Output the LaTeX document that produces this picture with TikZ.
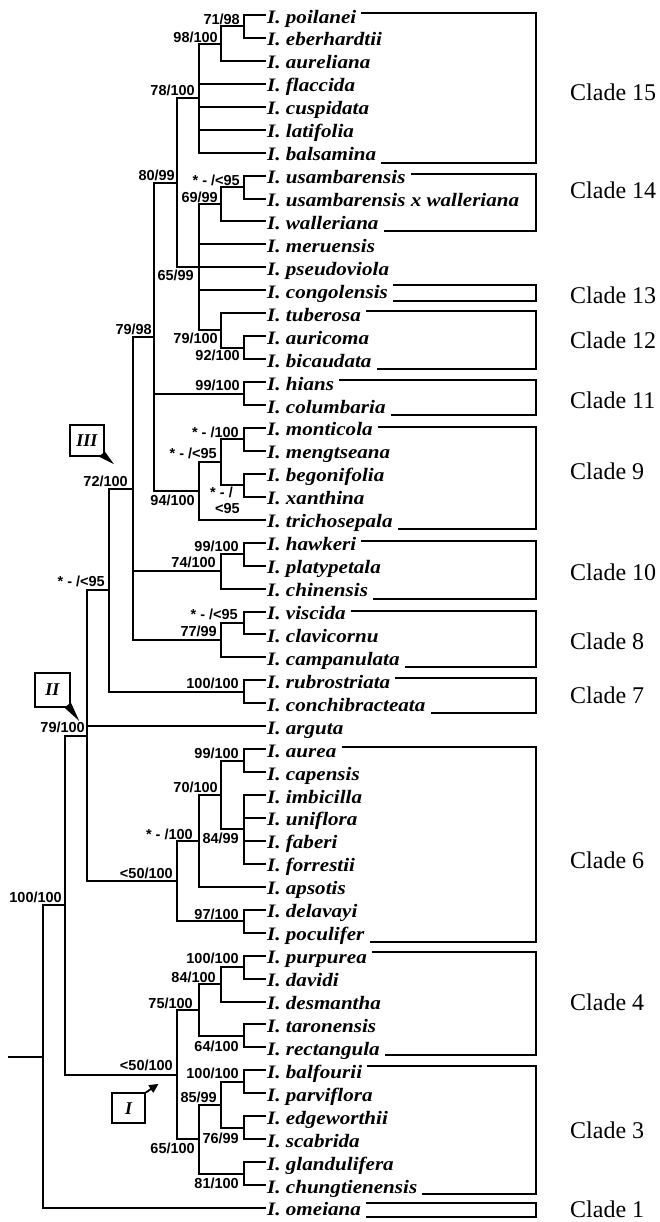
\documentclass[tikz,border=0pt]{standalone}
\usepackage{fontspec}
\setmainfont{Liberation Serif}
\newfontfamily\taxfont{Liberation Serif}[FakeStretch=1.11]
\newfontfamily\bootfont{Liberation Sans}
\usetikzlibrary{calc}

\tikzset{
  branch/.style={line width=2bp, line join=miter},
  bracket/.style={line width=2bp, line join=miter},
  taxon/.style={inner sep=0pt, anchor=base west,
    font=\taxfont\bfseries\itshape\fontsize{19bp}{21bp}\selectfont},
  boot/.style={inner sep=0pt, anchor=base east,
    font=\bootfont\bfseries\fontsize{14.5bp}{16bp}\selectfont},
  cladelab/.style={inner sep=0pt, anchor=west,
    font=\fontsize{24bp}{26bp}\selectfont},
  marker/.style={draw, line width=1.8bp, inner sep=0pt,
    font=\bfseries\itshape\fontsize{18bp}{20bp}\selectfont},
}
\newcommand\bootlab[4]{\node[boot] (#1) at (#2,#3) {#4};}

\begin{document}
\begin{tikzpicture}[x=1bp, y=-1bp]
\useasboundingbox (0,0) rectangle (660,1222);

% ---- terminal taxa ----
\foreach \i/\n in {1/poilanei,2/eberhardtii,3/aureliana,4/flaccida,5/cuspidata,
  6/latifolia,7/balsamina,8/usambarensis,9/usambarensis x walleriana,10/walleriana,
  11/meruensis,12/pseudoviola,13/congolensis,14/tuberosa,15/auricoma,16/bicaudata,
  17/hians,18/columbaria,19/monticola,20/mengtseana,21/begonifolia,22/xanthina,
  23/trichosepala,24/hawkeri,25/platypetala,26/chinensis,27/viscida,28/clavicornu,
  29/campanulata,30/rubrostriata,31/conchibracteata,32/arguta,33/aurea,34/capensis,
  35/imbicilla,36/uniflora,37/faberi,38/forrestii,39/apsotis,40/delavayi,
  41/poculifer,42/purpurea,43/davidi,44/desmantha,45/taronensis,46/rectangula,
  47/balfourii,48/parviflora,49/edgeworthii,50/scabrida,51/glandulifera,
  52/chungtienensis,53/omeiana}{
  \pgfmathsetmacro\yy{15+(\i-1)*22.942}
  \coordinate (e\i) at (265.5,\yy);
  \node[taxon] (t\i) at (267,\yy+8) {I. \n};
}

% ---- internal nodes ----
\coordinate (n71)   at (244,26.47);
\coordinate (n98)   at (221,43.68);
\coordinate (n78)   at (198.7,98.17);
\coordinate (nU)    at (244,187.07);
\coordinate (n69)   at (221,204.27);
\coordinate (n92)   at (244,347.66);
\coordinate (n79t)  at (221,330.45);
\coordinate (n65)   at (198.7,267.36);
\coordinate (n80)   at (176.7,182.77);
\coordinate (n99h)  at (244,393.54);
\coordinate (nS1)   at (244,439.43);
\coordinate (nS2)   at (244,485.31);
\coordinate (nS3)   at (221,462.37);
\coordinate (n94)   at (198.7,491.05);
\coordinate (n79)   at (154,336.91);
\coordinate (n99k)  at (244,554.14);
\coordinate (n74)   at (221,571.35);
\coordinate (nV)    at (244,622.96);
\coordinate (n77)   at (221,640.17);
\coordinate (n72)   at (132.7,488.54);
\coordinate (nR)    at (244,691.79);
\coordinate (nA)    at (109.3,590.17);
\coordinate (n99a)  at (244,760.62);
\coordinate (n84)   at (244,829.44);
\coordinate (n70)   at (221,795.03);
\coordinate (nSt)   at (198.7,840.91);
\coordinate (n97)   at (244,921.21);
\coordinate (nC6)   at (176.7,881.06);
\coordinate (n79b)  at (87.3,735.62);
\coordinate (n100p) at (244,967.09);
\coordinate (n84d)  at (221,984.3);
\coordinate (n64)   at (244,1035.92);
\coordinate (n75)   at (198.7,1010.11);
\coordinate (n100b) at (244,1081.8);
\coordinate (n76)   at (244,1127.69);
\coordinate (n85)   at (221,1104.75);
\coordinate (n81)   at (244,1173.57);
\coordinate (n65b)  at (198.7,1139.16);
\coordinate (nL)    at (176.7,1074.64);
\coordinate (nII)   at (65,905.13);
\coordinate (nRoot) at (42.7,1056.56);
\coordinate (r0)    at (8.3,1056.56);
\coordinate (R)     at (535.5,0);

% ---- branches ----
\foreach \p/\c in {n71/e1,n71/e2,n98/n71,n98/e3,n78/n98,n78/e4,n78/e5,n78/e6,n78/e7,
  nU/e8,nU/e9,n69/nU,n69/e10,n92/e15,n92/e16,n79t/e14,n79t/n92,
  n65/n69,n65/e11,n65/e13,n65/n79t,n80/n78,n80/n65,n80/e12,
  n99h/e17,n99h/e18,nS1/e19,nS1/e20,nS2/e21,nS2/e22,nS3/nS1,nS3/nS2,
  n94/nS3,n94/e23,n79/n80,n79/n99h,n79/n94,
  n99k/e24,n99k/e25,n74/n99k,n74/e26,nV/e27,nV/e28,n77/nV,n77/e29,
  n72/n79,n72/n74,n72/n77,nR/e30,nR/e31,nA/n72,nA/nR,
  n99a/e33,n99a/e34,n84/e35,n84/e36,n84/e37,n84/e38,n70/n99a,n70/n84,
  nSt/n70,nSt/e39,n97/e40,n97/e41,nC6/nSt,nC6/n97,
  n79b/nA,n79b/e32,n79b/nC6,
  n100p/e42,n100p/e43,n84d/n100p,n84d/e44,n64/e45,n64/e46,n75/n84d,n75/n64,
  n100b/e47,n100b/e48,n76/e49,n76/e50,n85/n100b,n85/n76,n81/e51,n81/e52,
  n65b/n85,n65b/n81,nL/n75,nL/n65b,nII/n79b,nII/nL,nRoot/nII,nRoot/e53}
  \draw[branch] (\p) |- (\c);
\draw[branch] (r0) -- (nRoot);

% ---- support values ----
\bootlab{b1}{240}{24}{71/98}
\bootlab{b2}{218}{42}{98/100}
\bootlab{b3}{195}{95}{78/100}
\bootlab{b4}{175}{180.5}{80/99}
\bootlab{b5}{240}{185}{* - /<95}
\bootlab{b6}{218}{202}{69/99}
\bootlab{b7}{194}{280.7}{65/99}
\bootlab{b8}{152}{334}{79/98}
\bootlab{b9}{218}{343}{79/100}
\bootlab{b10}{240}{360}{92/100}
\bootlab{b11}{240}{390.7}{99/100}
\bootlab{b12}{239}{437.7}{* - /100}
\bootlab{b13}{217}{458}{* - /<95}
\bootlab{b14}{233}{497.7}{* - /}
\bootlab{b15}{240}{513}{<95}
\bootlab{b16}{195}{505}{94/100}
\bootlab{b17}{239}{551}{99/100}
\bootlab{b18}{216}{567.7}{74/100}
\bootlab{b19}{238}{619}{* - /<95}
\bootlab{b20}{217}{636.7}{77/99}
\bootlab{b21}{239}{688}{100/100}
\bootlab{b22}{128}{486}{72/100}
\bootlab{b23}{105}{586}{* - /<95}
\bootlab{b24}{85}{732}{79/100}
\bootlab{b25}{239}{758}{99/100}
\bootlab{b26}{218}{792}{70/100}
\bootlab{b27}{193}{839}{* - /100}
\bootlab{b28}{239}{843}{84/99}
\bootlab{b29}{173}{878}{<50/100}
\bootlab{b30}{239}{919}{97/100}
\bootlab{b31}{62}{902}{100/100}
\bootlab{b32}{239}{963}{100/100}
\bootlab{b33}{216}{982}{84/100}
\bootlab{b34}{193}{1008}{75/100}
\bootlab{b35}{239}{1051}{64/100}
\bootlab{b36}{173}{1070}{<50/100}
\bootlab{b37}{239}{1078}{100/100}
\bootlab{b38}{217}{1102}{85/99}
\bootlab{b39}{239}{1143}{76/99}
\bootlab{b40}{195}{1153}{65/100}
\bootlab{b41}{239}{1188}{81/100}

% ---- clade brackets ----
\foreach \a/\b/\ly/\num/\tp/\bt in {1/7/92/15/2/10, 8/10/190/14/2/10,
  13/13/295/13/5/11, 14/16/340/12/2/10, 17/18/400/11/2/10, 19/23/471/9/1/9,
  24/26/572/10/2/10, 27/29/641/8/1/10, 30/31/695/7/2/10, 33/41/860/6/2/9,
  42/46/1002/4/4/8, 47/52/1130/3/4/8.5, 53/53/1209/1/5/9}{
  \draw[bracket] ($(t\a.east |- e\a)+(5,-\tp)$) -- ($(R |- e\a)+(0,-\tp)$)
    -- ($(R |- e\b)+(0,\bt)$) -- ($(t\b.east |- e\b)+(5,\bt)$);
  \node[cladelab] (clade\num) at (570,\ly) {Clade \num};
}

% ---- group markers ----
\node[marker, minimum width=34bp, minimum height=30.7bp] (mIII) at (87,440.35) {III};
\fill ($(mIII.south east)+(-6,0)$) -- ($(mIII.south east)+(9,7.5)$)
  -- ($(mIII.south east)+(0,-5)$) -- cycle;
\node[marker, minimum width=35bp, minimum height=33.4bp] (mII) at (52.5,690) {II};
\fill ($(mII.south east)+(-6.5,0)$) -- ($(mII.south east)+(8.3,13.3)$)
  -- ($(mII.south east)+(0,-5)$) -- cycle;
\node[marker, minimum width=32.7bp, minimum height=30bp] (mI) at (128.65,1108.3) {I};
\draw[line width=1.8bp] (mI.north east) -- ($(mI.north east)+(5.5,-3.7)$);
\fill ($(mI.north east)+(12.5,-8.5)$) -- ($(mI.north east)+(7.6,0.3)$)
  -- ($(mI.north east)+(5.4,-2.2)$) -- ($(mI.north east)+(2.5,-7.2)$) -- cycle;
\end{tikzpicture}
\end{document}
